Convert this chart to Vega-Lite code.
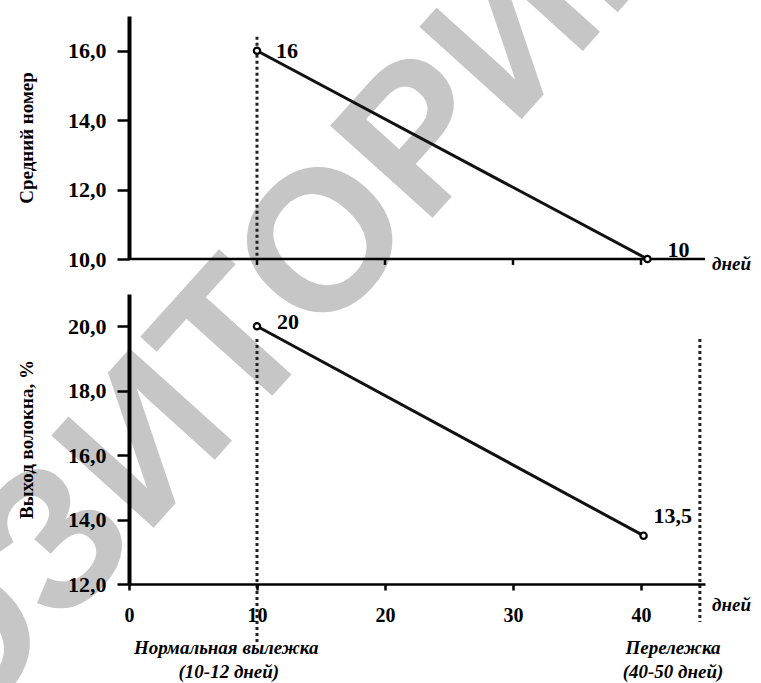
{
  "$schema": "https://vega.github.io/schema/vega-lite/v6.json",
  "autosize": {"type": "none"},
  "width": 576,
  "height": 584,
  "padding": {"left": 129, "top": 0, "right": 56, "bottom": 99},
  "background": "white",
  "config": {
    "view": {"stroke": null},
    "axis": {
      "grid": false,
      "zindex": 1,
      "domainColor": "black",
      "tickColor": "black",
      "labelColor": "black",
      "titleColor": "black",
      "labelFont": "Liberation Serif",
      "labelFontWeight": "bold",
      "titleFont": "Liberation Serif",
      "titleFontWeight": "bold"
    }
  },
  "resolve": {"scale": {"y": "independent"}, "axis": {"y": "independent"}},
  "layer": [
    {
      "layer": [
        {
          "data": {"values": [{"x": 1.56, "y": 4.7, "text": "РЕПОЗИТОРИЙ"}]},
          "mark": {"type": "text", "font": "Liberation Sans", "fontWeight": "bold", "fontSize": 200, "angle": -48, "align": "center", "baseline": "middle", "color": "#c6c6c6"},
          "encoding": {
            "x": {"field": "x", "type": "quantitative", "scale": {"domain": [0, 45], "nice": false, "zero": false},
              "axis": {"values": [0, 10, 20, 30, 40], "title": null, "labelFontSize": 20, "labelPadding": 15, "tickSize": 6, "tickWidth": 2.5, "domainWidth": 2.5, "labelFlush": false, "zindex": 1}},
            "y": {"field": "y", "type": "quantitative", "scale": {"domain": [10, 17], "range": [259, 16], "nice": false, "zero": false},
              "axis": {"orient": "left", "zindex": 1, "values": [10, 12, 14, 16], "format": ".1f", "labelExpr": "replace(datum.label, '.', ',')", "labelFontSize": 22, "labelPadding": 11, "tickSize": 12, "tickWidth": 2.5, "domainWidth": 4, "title": "Средний номер", "titleFontSize": 19, "titleAngle": -90, "titleBaseline": "bottom", "titleX": -93}},
            "text": {"field": "text"}
          }
        },
        {
          "data": {"values": [{"x": 10, "y": 16.4, "y2": 10}]},
          "mark": {"type": "rule", "strokeDash": [3, 3], "strokeWidth": 3, "color": "#222"},
          "encoding": {
            "x": {"field": "x", "type": "quantitative"},
            "y": {"field": "y", "type": "quantitative"},
            "y2": {"field": "y2"}
          }
        },
        {
          "data": {"values": [{"x": 0, "x2": 45, "y": 10}]},
          "mark": {"type": "rule", "strokeWidth": 2.5, "color": "black"},
          "encoding": {
            "x": {"field": "x", "type": "quantitative"},
            "x2": {"field": "x2"},
            "y": {"field": "y", "type": "quantitative"}
          }
        },
        {
          "data": {"values": [{"x": 10, "y": 10, "y2": 9.83}, {"x": 20, "y": 10, "y2": 9.83}, {"x": 30, "y": 10, "y2": 9.83}, {"x": 40, "y": 10, "y2": 9.83}]},
          "mark": {"type": "rule", "strokeWidth": 2.5, "color": "black"},
          "encoding": {
            "x": {"field": "x", "type": "quantitative"},
            "y": {"field": "y", "type": "quantitative"},
            "y2": {"field": "y2"}
          }
        },
        {
          "data": {"values": [{"x": 10, "y": 16, "label": "16"}, {"x": 40.5, "y": 10, "label": "10"}]},
          "layer": [
            {
              "mark": {"type": "line", "color": "#111", "strokeWidth": 3},
              "encoding": {"x": {"field": "x", "type": "quantitative"}, "y": {"field": "y", "type": "quantitative"}}
            },
            {
              "mark": {"type": "point", "filled": true, "fill": "white", "stroke": "black", "strokeWidth": 2.2, "size": 40, "opacity": 1},
              "encoding": {"x": {"field": "x", "type": "quantitative"}, "y": {"field": "y", "type": "quantitative"}}
            },
            {
              "transform": [{"filter": "datum.label == '16'"}],
              "mark": {"type": "text", "align": "left", "baseline": "middle", "dx": 19, "dy": 0, "font": "Liberation Serif", "fontWeight": "bold", "fontSize": 22, "color": "black"},
              "encoding": {"x": {"field": "x", "type": "quantitative"}, "y": {"field": "y", "type": "quantitative"}, "text": {"field": "label"}}
            },
            {
              "transform": [{"filter": "datum.label == '10'"}],
              "mark": {"type": "text", "align": "left", "baseline": "middle", "dx": 20, "dy": -9, "font": "Liberation Serif", "fontWeight": "bold", "fontSize": 22, "color": "black"},
              "encoding": {"x": {"field": "x", "type": "quantitative"}, "y": {"field": "y", "type": "quantitative"}, "text": {"field": "label"}}
            }
          ]
        },
        {
          "data": {"values": [{"x": 45.55, "y": 9.86, "text": "дней"}]},
          "mark": {"type": "text", "align": "left", "baseline": "middle", "font": "Liberation Serif", "fontStyle": "italic", "fontWeight": "bold", "fontSize": 19, "color": "black"},
          "encoding": {"x": {"field": "x", "type": "quantitative"}, "y": {"field": "y", "type": "quantitative"}, "text": {"field": "text"}}
        }
      ]
    },
    {
      "layer": [
        {
          "data": {"values": [{"x": 10, "y": 19.6, "y2": 10.1}, {"x": 44.6, "y": 19.6, "y2": 10.82}]},
          "mark": {"type": "rule", "strokeDash": [3, 3], "strokeWidth": 3, "color": "#222"},
          "encoding": {
            "x": {"field": "x", "type": "quantitative"},
            "y": {"field": "y", "type": "quantitative", "scale": {"domain": [12, 21], "range": [584, 294], "nice": false, "zero": false},
              "axis": {"orient": "left", "zindex": 1, "values": [12, 14, 16, 18, 20], "format": ".1f", "labelExpr": "replace(datum.label, '.', ',')", "labelFontSize": 22, "labelPadding": 11, "tickSize": 12, "tickWidth": 2.5, "domainWidth": 4, "title": "Выход волокна, %", "titleFontSize": 19, "titleAngle": -90, "titleBaseline": "bottom", "titleX": -93}},
            "y2": {"field": "y2"}
          }
        },
        {
          "data": {"values": [{"x": 10, "y": 20, "label": "20"}, {"x": 40.2, "y": 13.5, "label": "13,5"}]},
          "layer": [
            {
              "mark": {"type": "line", "color": "#111", "strokeWidth": 3},
              "encoding": {"x": {"field": "x", "type": "quantitative"}, "y": {"field": "y", "type": "quantitative"}}
            },
            {
              "mark": {"type": "point", "filled": true, "fill": "white", "stroke": "black", "strokeWidth": 2.2, "size": 40, "opacity": 1},
              "encoding": {"x": {"field": "x", "type": "quantitative"}, "y": {"field": "y", "type": "quantitative"}}
            },
            {
              "transform": [{"filter": "datum.label == '20'"}],
              "mark": {"type": "text", "align": "left", "baseline": "middle", "dx": 20, "dy": -4, "font": "Liberation Serif", "fontWeight": "bold", "fontSize": 22, "color": "black"},
              "encoding": {"x": {"field": "x", "type": "quantitative"}, "y": {"field": "y", "type": "quantitative"}, "text": {"field": "label"}}
            },
            {
              "transform": [{"filter": "datum.label == '13,5'"}],
              "mark": {"type": "text", "align": "left", "baseline": "middle", "dx": 10, "dy": -20, "font": "Liberation Serif", "fontWeight": "bold", "fontSize": 22, "color": "black"},
              "encoding": {"x": {"field": "x", "type": "quantitative"}, "y": {"field": "y", "type": "quantitative"}, "text": {"field": "label"}}
            }
          ]
        },
        {
          "data": {"values": [{"x": 45.55, "y": 11.35, "text": "дней"}]},
          "mark": {"type": "text", "align": "left", "baseline": "middle", "font": "Liberation Serif", "fontStyle": "italic", "fontWeight": "bold", "fontSize": 19, "color": "black"},
          "encoding": {"x": {"field": "x", "type": "quantitative"}, "y": {"field": "y", "type": "quantitative"}, "text": {"field": "text"}}
        },
        {
          "data": {"values": [
            {"x": 7.6, "y": 10.0, "text": "Нормальная вылежка"},
            {"x": 7.8, "y": 9.26, "text": "(10-12 дней)"},
            {"x": 42.5, "y": 10.0, "text": "Перележка"},
            {"x": 42.5, "y": 9.26, "text": "(40-50 дней)"}
          ]},
          "mark": {"type": "text", "align": "center", "baseline": "middle", "font": "Liberation Serif", "fontStyle": "italic", "fontWeight": "bold", "fontSize": 19, "color": "black"},
          "encoding": {
            "x": {"field": "x", "type": "quantitative"},
            "y": {"field": "y", "type": "quantitative"},
            "text": {"field": "text"}
          }
        }
      ]
    }
  ]
}
